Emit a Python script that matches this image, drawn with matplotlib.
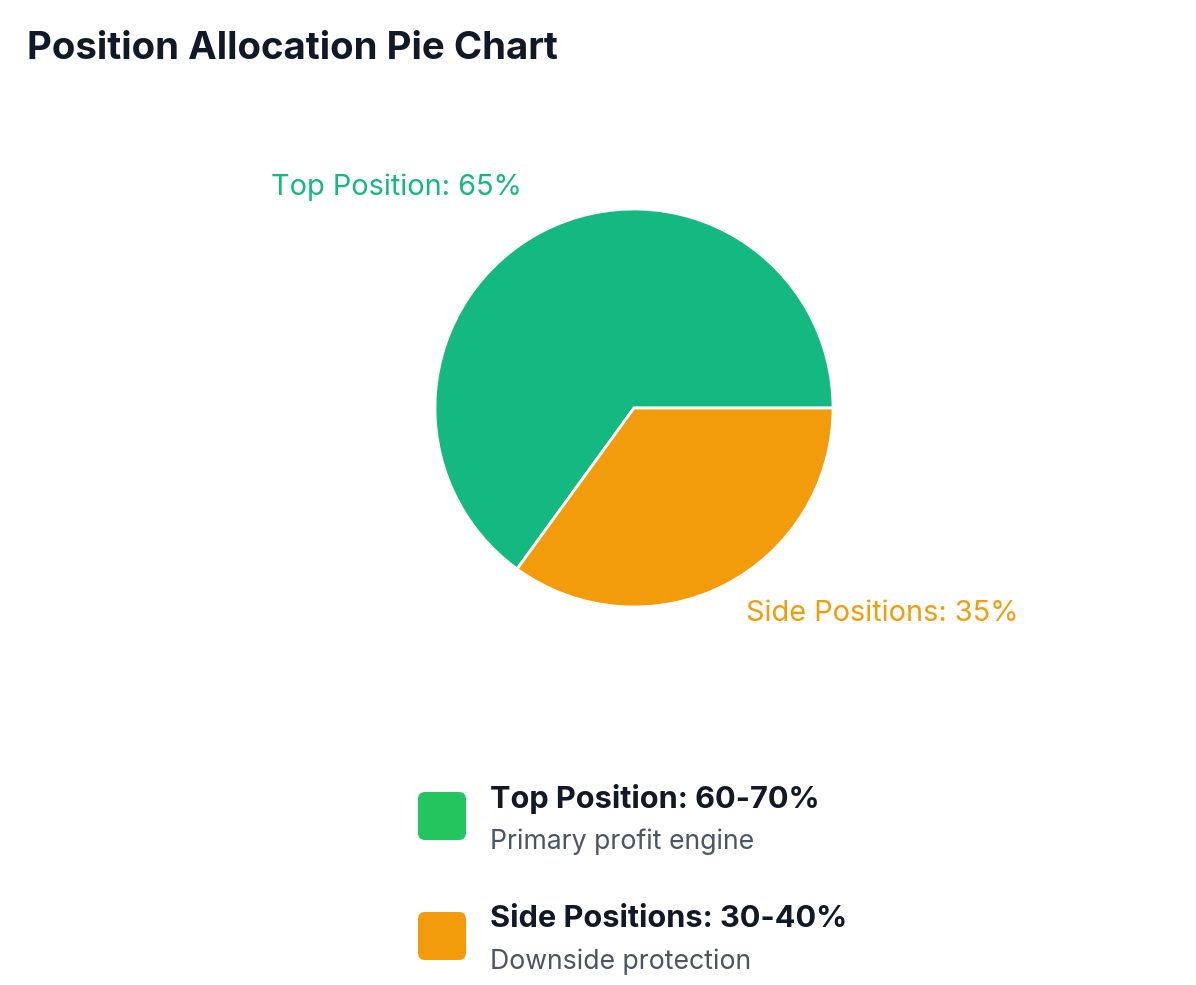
import matplotlib
matplotlib.use("Agg")
import matplotlib.pyplot as plt
import numpy as np
from matplotlib.patches import FancyBboxPatch

plt.rcParams['font.family'] = ['Inter', 'DejaVu Sans']

categories = ["Top Position", "Side Positions"]
values = [65, 35]
pie_colors = ["#14b981", "#f39c0b"]
legend_titles = ["Top Position: 60-70%", "Side Positions: 30-40%"]
legend_subs = ["Primary profit engine", "Downside protection"]
legend_colors = ["#22c55e", "#f39c0b"]
title = "Position Allocation Pie Chart"

W, H = 1196, 985
fig = plt.figure(figsize=(W / 100, H / 100), dpi=100)
fig.patch.set_facecolor("white")

def fx(px):
    return px / W

def fy(py):
    return 1 - py / H

fig.text(fx(27), fy(49), title, fontsize=27.6, fontweight="bold", color="#111827",
         ha="left", va="center")

# Pie axes
cx, cy, r = 634, 408, 199
ax = fig.add_axes([fx(cx - r), fy(cy + r), (2 * r) / W, (2 * r) / H])
wedges, _ = ax.pie(values, colors=pie_colors, startangle=0, counterclock=True,
                   radius=1.0, wedgeprops=dict(edgecolor="white", linewidth=2))
ax.set_xlim(-1, 1)
ax.set_ylim(-1, 1)
ax.set_aspect("equal")
ax.axis("off")

# Labels along mid-angle outside the pie
total = sum(values)
start = 0.0
for cat, v, col in zip(categories, values, pie_colors):
    ang = np.deg2rad(start + 360 * v / total / 2)
    start += 360 * v / total
    x, y = 1.24 * np.cos(ang), 1.2 * np.sin(ang)
    ha = "left" if x > 0 else "right"
    ax.text(x, y, f"{cat}: {v}%", color=col, fontsize=20.8, ha=ha, va="baseline",
            clip_on=False)

# Legend
ys = [816, 936]
for t, s, c, yy in zip(legend_titles, legend_subs, legend_colors, ys):
    box = FancyBboxPatch((fx(418), fy(yy + 24)), fx(48), (48) / H,
                         boxstyle="round,pad=0,rounding_size=0.006",
                         transform=fig.transFigure, facecolor=c, edgecolor="none",
                         mutation_aspect=W / H)
    fig.patches.append(box)
    fig.text(fx(490), fy(yy - 17), t, fontsize=22.1, fontweight="bold", color="#111827",
             ha="left", va="center")
    fig.text(fx(490), fy(yy + 26), s, fontsize=19.2, color="#4b5563",
             ha="left", va="center")

fig.savefig("out.png", dpi=100, facecolor="white")
